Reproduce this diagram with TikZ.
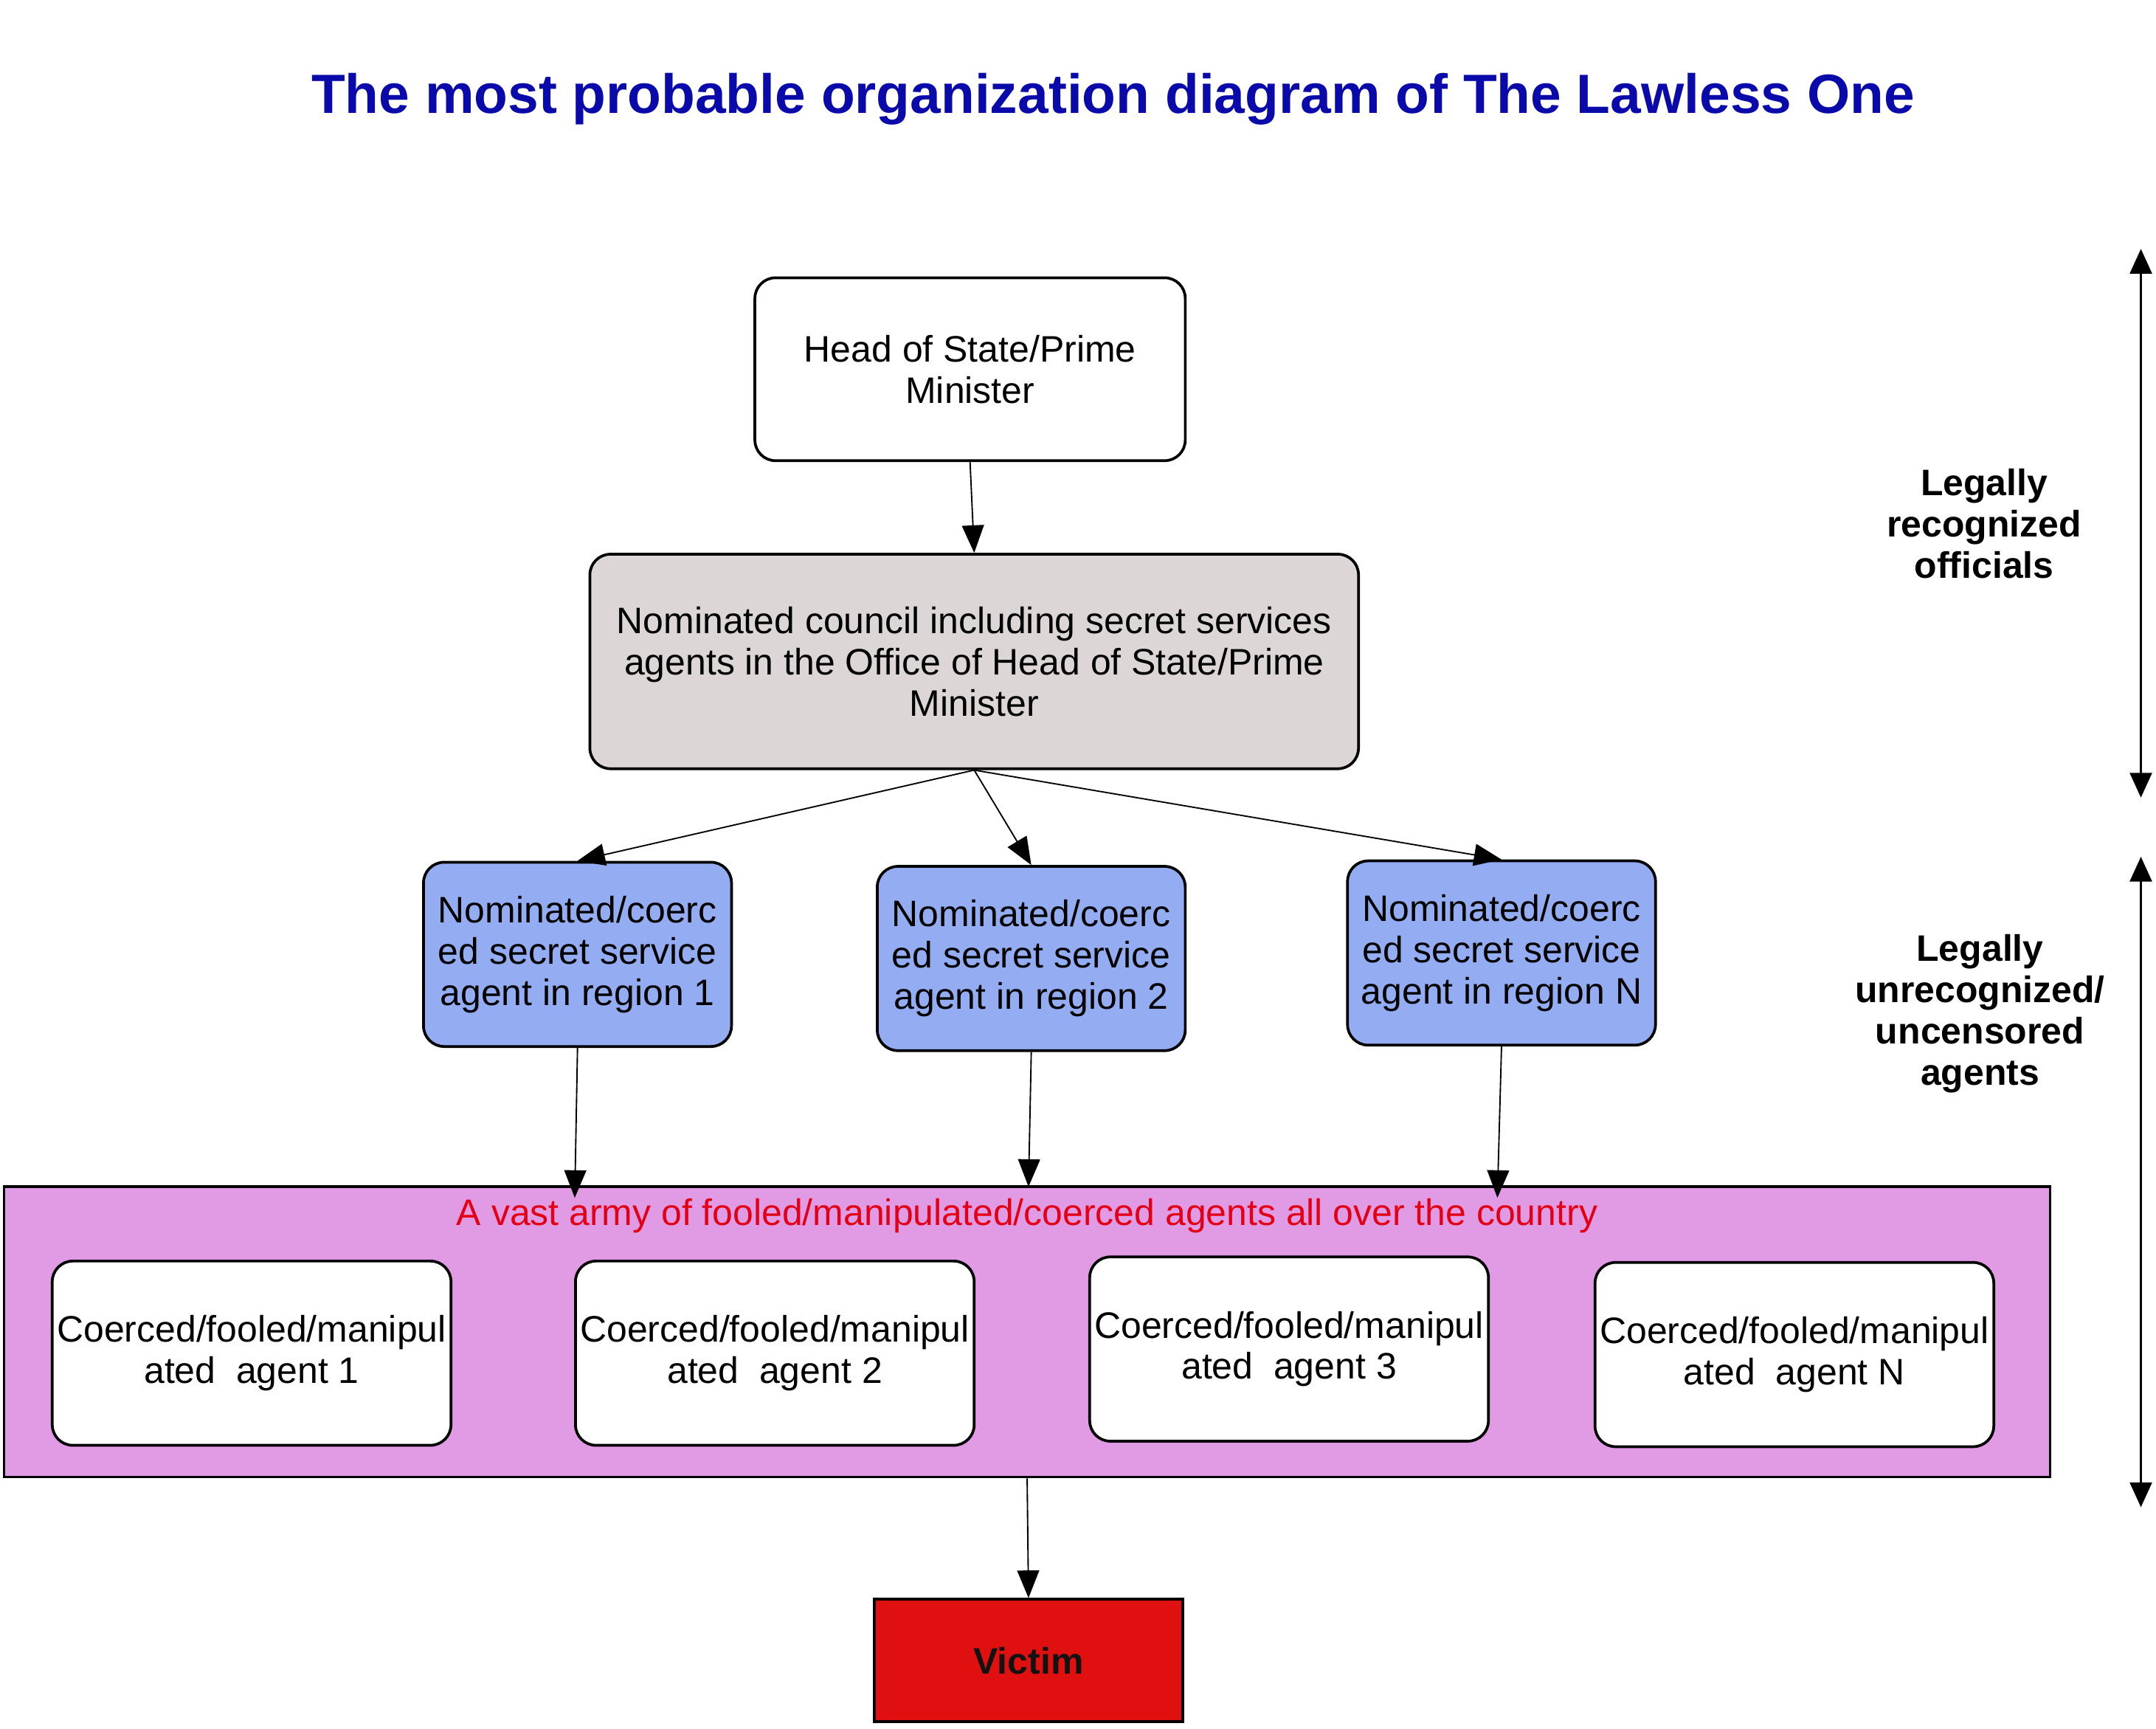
\documentclass[tikz,border=0pt]{standalone}
\usepackage{fontspec}
\setmainfont{Liberation Sans}
\usetikzlibrary{arrows.meta}
\definecolor{titleblue}{RGB}{10,10,170}
\definecolor{councilgray}{RGB}{220,214,214}
\definecolor{regionblue}{RGB}{148,173,242}
\definecolor{armypink}{RGB}{225,154,228}
\definecolor{victimred}{RGB}{224,16,16}
\definecolor{labelred}{RGB}{228,0,20}
\begin{document}
\begin{tikzpicture}[x=0.5pt,y=-0.5pt,
  basebox/.style={draw, line width=1pt, align=center, inner sep=0pt,
    font=\fontsize{13.4}{15}\selectfont},
  roundbox/.style={basebox, rounded corners=7.5pt},
  headbox/.style={roundbox, fill=white, minimum width=156.5pt, minimum height=66.5pt},
  councilbox/.style={roundbox, fill=councilgray, minimum width=279.5pt, minimum height=78pt},
  regionbox/.style={roundbox, fill=regionblue, minimum width=112pt, minimum height=67pt},
  agentbox/.style={roundbox, fill=white, minimum width=145pt, minimum height=67pt},
  armybox/.style={basebox, fill=armypink, minimum width=744pt, minimum height=105.5pt},
  victimbox/.style={basebox, fill=victimred, minimum width=112pt, minimum height=44.5pt,
    font=\fontsize{13.4}{15}\selectfont\bfseries, text=black!93},
  sidelabel/.style={align=center, inner sep=0pt, font=\fontsize{13.4}{15}\selectfont\bfseries},
  arr/.style={-{Triangle[length=10pt,width=8pt]}, line width=0.5pt},
  dblarr/.style={{Triangle[length=9pt,width=8pt]}-{Triangle[length=9pt,width=8pt]}, line width=0.8pt}
]
\useasboundingbox (0,0) rectangle (1568,1257);

\node[font=\fontsize{20.1}{22}\selectfont\bfseries, text=titleblue, inner sep=0pt] (title) at (809.5,72)
  {The most probable organization diagram of The Lawless One};

\node[headbox] (head) at (705.5,268.5) {Head of State/Prime\\Minister};
\node[councilbox] (council) at (708.5,481)
  {Nominated council including secret services\\agents in the Office of Head of State/Prime\\Minister};

\node[regionbox] (r1) at (420,694) {Nominated/coerc\\ed secret service\\agent in region 1};
\node[regionbox] (r2) at (750,697) {Nominated/coerc\\ed secret service\\agent in region 2};
\node[regionbox] (rn) at (1092,693) {Nominated/coerc\\ed secret service\\agent in region N};

\node[armybox] (army) at (747,968.5) {};
\node[inner sep=0pt, text=labelred, font=\fontsize{13.4}{15}\selectfont] (armylabel) at (747,884)
  {A vast army of fooled/manipulated/coerced agents all over the country};

\node[agentbox] (a1) at (183,984) {Coerced/fooled/manipul\\ated\ \ agent 1};
\node[agentbox] (a2) at (563.5,984) {Coerced/fooled/manipul\\ated\ \ agent 2};
\node[agentbox] (a3) at (937.5,981) {Coerced/fooled/manipul\\ated\ \ agent 3};
\node[agentbox] (an) at (1305,985) {Coerced/fooled/manipul\\ated\ \ agent N};

\node[victimbox] (victim) at (748,1207.5) {Victim};

\node[sidelabel] (legal) at (1443,381) {Legally\\recognized\\officials};
\node[sidelabel] (illegal) at (1440,737) {Legally\\unrecognized/\\uncensored\\agents};

% connectors
\draw[arr] (head.south) -- (council.north);
\draw[arr] (council.south) -- (r1.north);
\draw[arr] (council.south) -- (r2.north);
\draw[arr] (council.south) -- (rn.north);

\coordinate (p1) at (418,871);
\coordinate (p2) at (748,863);
\coordinate (pn) at (1089,871);
\draw[arr] (r1.south) -- (p1);
\draw[arr] (r2.south) -- (p2);
\draw[arr] (rn.south) -- (pn);

\draw[arr] (army.south) -- (victim.north);

\coordinate (s1t) at (1557,181);
\coordinate (s1b) at (1557,580);
\coordinate (s2t) at (1557,623);
\coordinate (s2b) at (1557,1096);
\draw[dblarr] (s1t) -- (s1b);
\draw[dblarr] (s2t) -- (s2b);
\end{tikzpicture}
\end{document}
